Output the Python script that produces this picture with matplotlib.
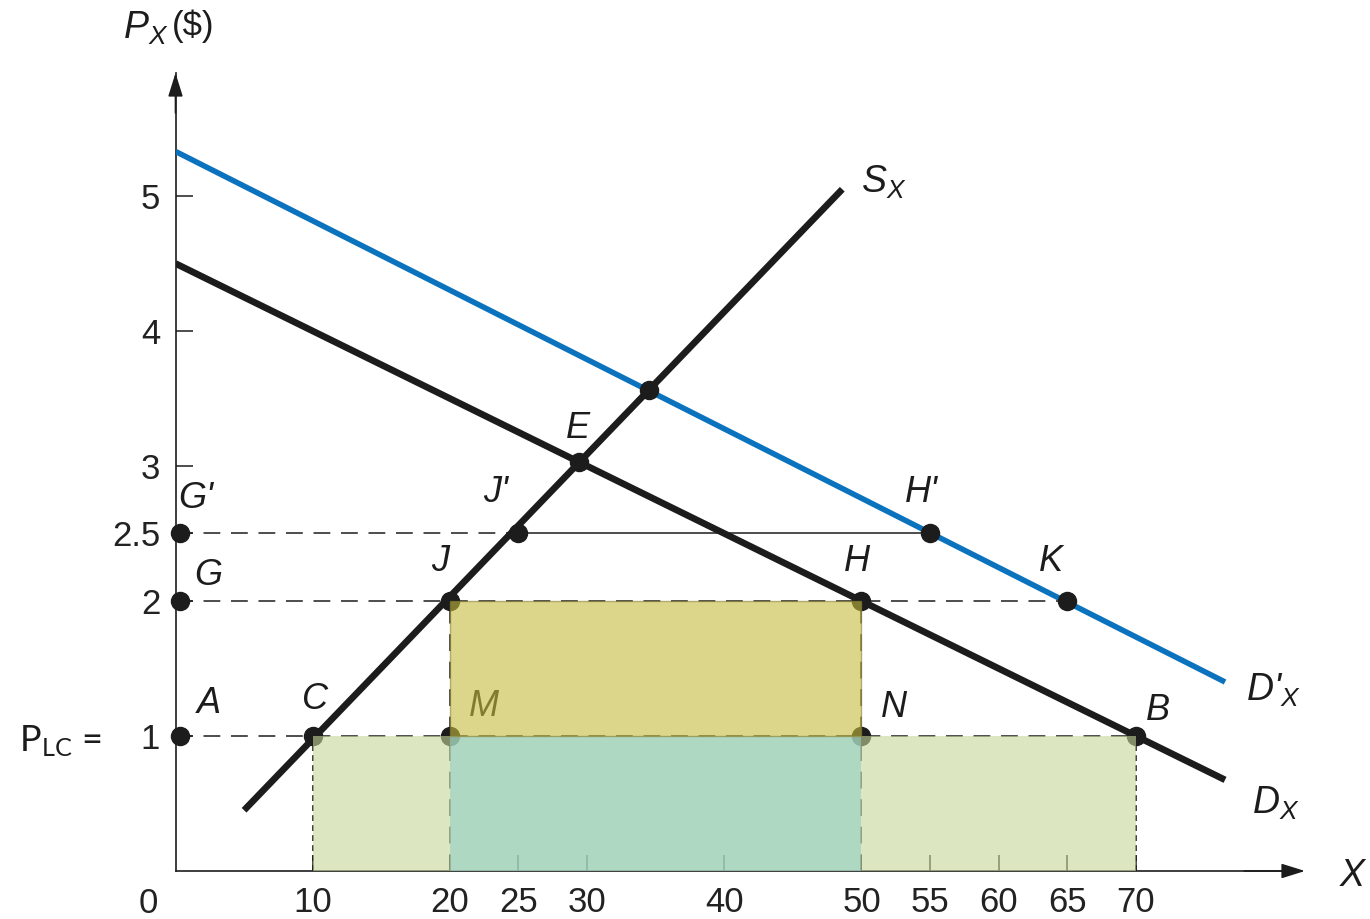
import matplotlib.pyplot as plt
from matplotlib.patches import Rectangle

plt.rcParams['font.family'] = ['Liberation Sans', 'DejaVu Sans']
plt.rcParams['mathtext.fontset'] = 'custom'
plt.rcParams['mathtext.it'] = 'Liberation Sans:italic'
plt.rcParams['mathtext.rm'] = 'Liberation Sans'
plt.rcParams['mathtext.sf'] = 'Lato'

# curves (end points)
dx_x = [0, 76.5]
dx_y = [4.5, 0.675]
dpx_x = [0, 76.5]
dpx_y = [5.33, 1.40]
sx_x = [5.0, 48.6]
sx_y = [0.45, 5.05]

# labelled points
pt_names = ["G'", "G", "A", "C", "M", "N", "B", "J", "H", "K", "J'", "H'", "E", ""]
pt_x = [0.33, 0.33, 0.33, 10, 20, 50, 70, 20, 50, 65, 25, 55, 29.4, 34.5]
pt_y = [2.5, 2, 1, 1, 1, 1, 1, 2, 2, 2, 2.5, 2.5, 3.03, 3.56]

# shaded areas: x from, x to, price from, price to
shade_x0 = [10, 20, 20]
shade_x1 = [70, 50, 50]
shade_y0 = [0, 0, 1]
shade_y1 = [1, 1, 2]

x_ticks = [10, 20, 25, 30, 40, 50, 55, 60, 65, 70]
y_ticks = [1, 2, 2.5, 3, 4, 5]
y_ticklabels = ['1', '2', '2.5', '3', '4', '5']

ink = '#1c1c1c'
blue = '#0b72bd'

fig = plt.figure(figsize=(13.7, 9.19), dpi=100)
ax = fig.add_axes([175.5 / 1370, 48 / 919, 1125 / 1370, 798 / 919])
ax.set_xlim(0, 82)
ax.set_ylim(0, 5.911)

for s in ['top', 'right']:
    ax.spines[s].set_visible(False)
for s in ['left', 'bottom']:
    ax.spines[s].set_linewidth(1.2)
    ax.spines[s].set_color(ink)

arrow = dict(arrowstyle='-|>,head_length=0.8,head_width=0.25', color=ink,
             lw=1.2, mutation_scale=18, shrinkA=0, shrinkB=0)
ax.annotate('', xy=(1.004, 0), xytext=(0.95, 0), xycoords='axes fraction',
            arrowprops=arrow, annotation_clip=False)
ax.annotate('', xy=(0, 1.0), xytext=(0, 0.95), xycoords='axes fraction',
            arrowprops=arrow, annotation_clip=False)

ax.set_xticks(x_ticks)
ax.set_xticklabels([str(v) for v in x_ticks])
ax.set_yticks(y_ticks)
ax.set_yticklabels(y_ticklabels)
ax.tick_params(axis='x', direction='in', length=11.5, width=1.1, color=ink,
               labelsize=25, pad=11, labelcolor='#222222')
ax.tick_params(axis='y', direction='in', length=12, width=1.1, color=ink,
               labelsize=25, pad=11, labelcolor='#222222')

# guide lines
dash = dict(color=ink, lw=1.1, dashes=(11, 7), zorder=2)
dot = dict(color=ink, lw=1.2, dashes=(3.5, 2.5), zorder=2)
ax.plot([0, 25], [2.5, 2.5], **dash)
ax.plot([25, 55], [2.5, 2.5], color=ink, lw=1.1, zorder=2)
ax.plot([0, 65], [2, 2], **dash)
ax.plot([0, 70], [1, 1], **dash)
ax.plot([20, 20], [0, 2], **dash)
ax.plot([50, 50], [0, 2], **dash)
ax.plot([10, 10], [0, 1], **dot)
ax.plot([70, 70], [0, 1], **dot)

# curves
ax.plot(dpx_x, dpx_y, color=blue, lw=4.0, solid_capstyle='butt', zorder=3)
ax.plot(dx_x, dx_y, color=ink, lw=4.8, solid_capstyle='butt', zorder=3)
ax.plot(sx_x, sx_y, color=ink, lw=4.8, solid_capstyle='butt', zorder=3)

ax.plot(pt_x, pt_y, 'o', color=ink, ms=13, zorder=4, clip_on=False)

# shaded areas drawn over the dots
fills = ['#c6d799', '#92cec5', '#c6bc3c']
edges = ['none', 'none', '#8a8238']
for i in range(len(shade_x0)):
    ax.add_patch(Rectangle((shade_x0[i], shade_y0[i]), shade_x1[i] - shade_x0[i],
                           shade_y1[i] - shade_y0[i], facecolor=fills[i],
                           edgecolor=edges[i], lw=1.0, alpha=0.6, zorder=5))

# point labels
lab_pos = {"G'": (1.5, 2.76), "G": (2.4, 2.19), "A": (2.4, 1.24), "C": (10.2, 1.27),
           "M": (22.5, 1.22), "N": (52.4, 1.21), "B": (71.6, 1.19), "J": (19.3, 2.29),
           "H": (49.7, 2.29), "K": (63.8, 2.29), "J'": (23.3, 2.80), "H'": (54.4, 2.80),
           "E": (29.3, 3.28)}
for name in pt_names:
    if name == "":
        continue
    lx, ly = lab_pos[name]
    ax.text(lx, ly, name, fontsize=26, style='italic', color=ink,
            ha='center', va='center', zorder=4.5 if name == 'M' else 6)

ax.text(51.6, 5.10, r'S$_X$', fontsize=27, style='italic', color=ink,
        ha='center', va='center')
ax.text(80.0, 1.34, r"D'$_X$", fontsize=27, style='italic', color=ink,
        ha='center', va='center', clip_on=False)
ax.text(80.2, 0.50, r'D$_X$', fontsize=27, style='italic', color=ink,
        ha='center', va='center', clip_on=False)
ax.text(85.8, -0.04, 'X', fontsize=27, style='italic', color=ink,
        ha='center', va='center', clip_on=False)
ax.text(-0.5, 6.24, r'P$_X$', fontsize=27, style='italic', color=ink,
        ha='right', va='center', clip_on=False)
ax.text(-0.3, 6.26, r'(\$)', fontsize=25, color=ink,
        ha='left', va='center', clip_on=False)
ax.text(-8.4, 0.96, r'$\mathsf{P_{LC}}$ =', fontsize=26, color=ink, ha='center',
        va='center', family='Lato', clip_on=False)
ax.text(-2.0, -0.24, '0', fontsize=25, color='#222222', ha='center', va='center',
        clip_on=False)

fig.savefig('out.png', dpi=100)
